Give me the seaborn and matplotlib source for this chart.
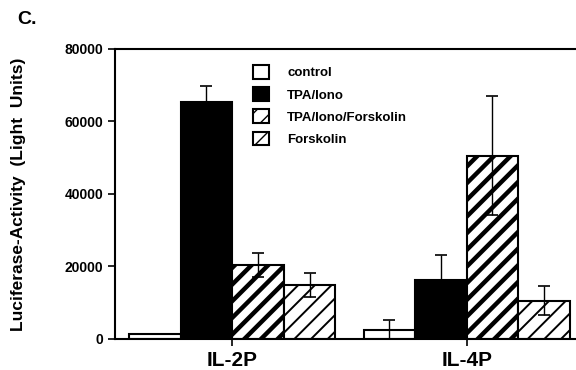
import matplotlib
matplotlib.use("Agg")
import matplotlib.pyplot as plt
import matplotlib.patches as mpatches
import numpy as np
import pandas as pd
import seaborn as sns

# Data
promoters = ["IL-2P", "IL-4P"]
treatments = ["control", "TPA/Iono", "TPA/Iono/Forskolin", "Forskolin"]
il2_vals = [1500, 65400, 20500, 14900]
il2_err = [0, 4500, 3300, 3400]
il4_vals = [2600, 16300, 50600, 10600]
il4_err = [2700, 7000, 16500, 4000]

rows = []
for prom, vals, errs in [("IL-2P", il2_vals, il2_err), ("IL-4P", il4_vals, il4_err)]:
    for t, v, e in zip(treatments, vals, errs):
        rows.append({"promoter": prom, "treatment": t, "value": v, "err": e})
df = pd.DataFrame(rows)

sns.set_theme(style="ticks")
plt.rcParams["font.family"] = ["Liberation Sans", "DejaVu Sans"]
plt.rcParams["font.weight"] = "bold"
plt.rcParams["text.color"] = "black"
plt.rcParams["axes.labelcolor"] = "black"
plt.rcParams["xtick.color"] = "black"
plt.rcParams["ytick.color"] = "black"

fig = plt.figure(figsize=(5.76, 3.7), dpi=100)
ax = fig.add_axes([0.1997, 0.0838, 0.81, 0.7838])

fills = {"control": "white", "TPA/Iono": "black",
         "TPA/Iono/Forskolin": "white", "Forskolin": "white"}
hatches = {"control": "", "TPA/Iono": "", "TPA/Iono/Forskolin": "//", "Forskolin": "//"}
hatch_lw = {"control": 1.0, "TPA/Iono": 1.0, "TPA/Iono/Forskolin": 3.2, "Forskolin": 1.4}

sns.barplot(data=df, x="promoter", y="value", hue="treatment", order=promoters,
            hue_order=treatments, palette=fills, errorbar=None, width=0.88,
            edgecolor="black", linewidth=1.5, ax=ax, legend=False, saturation=1)

# style bars and add error bars
bars = [p for p in ax.patches if isinstance(p, mpatches.Rectangle)]
for i, t in enumerate(treatments):
    for j, prom in enumerate(promoters):
        bar = bars[i * len(promoters) + j]
        bar.set_hatch(hatches[t])
        if hasattr(bar, "set_hatch_linewidth"):
            bar.set_hatch_linewidth(hatch_lw[t])
        sub = df[(df.promoter == prom) & (df.treatment == t)].iloc[0]
        if sub.err > 0:
            cx = bar.get_x() + bar.get_width() / 2
            ax.errorbar(cx, sub.value, yerr=sub.err, fmt="none", ecolor="black",
                        elinewidth=1.0, capsize=4, capthick=1.2, zorder=5)

ax.set_ylim(0, 80000)
ax.set_xlim(-0.5, 1.49)
ax.set_yticks([0, 20000, 40000, 60000, 80000])
ax.tick_params(axis="y", labelsize=10, width=1.2, length=5, direction="out")
ax.tick_params(axis="x", labelsize=15, width=1.2, length=5, direction="out", pad=4)
for lab in ax.get_xticklabels() + ax.get_yticklabels():
    lab.set_fontweight("bold")
ax.set_xlabel("")
ax.set_ylabel("Luciferase-Activity  (Light  Units)", fontsize=12.5, fontweight="bold", labelpad=28)

for s in ["left", "top", "bottom"]:
    ax.spines[s].set_linewidth(1.5)
    ax.spines[s].set_color("black")
ax.spines["right"].set_visible(False)

# legend
handles = [mpatches.Patch(facecolor=fills[t], edgecolor="black", linewidth=1.5,
                          hatch=hatches[t]) for t in treatments]
ax.legend(handles, treatments, loc="upper left", bbox_to_anchor=(0.27, 0.985),
          frameon=False, fontsize=9.5, handlelength=1.2, handleheight=1.2,
          handletextpad=1.4, labelspacing=0.6)

fig.text(0.03, 0.935, "C.", fontsize=14, fontweight="bold")

fig.savefig("out.png", dpi=100)
